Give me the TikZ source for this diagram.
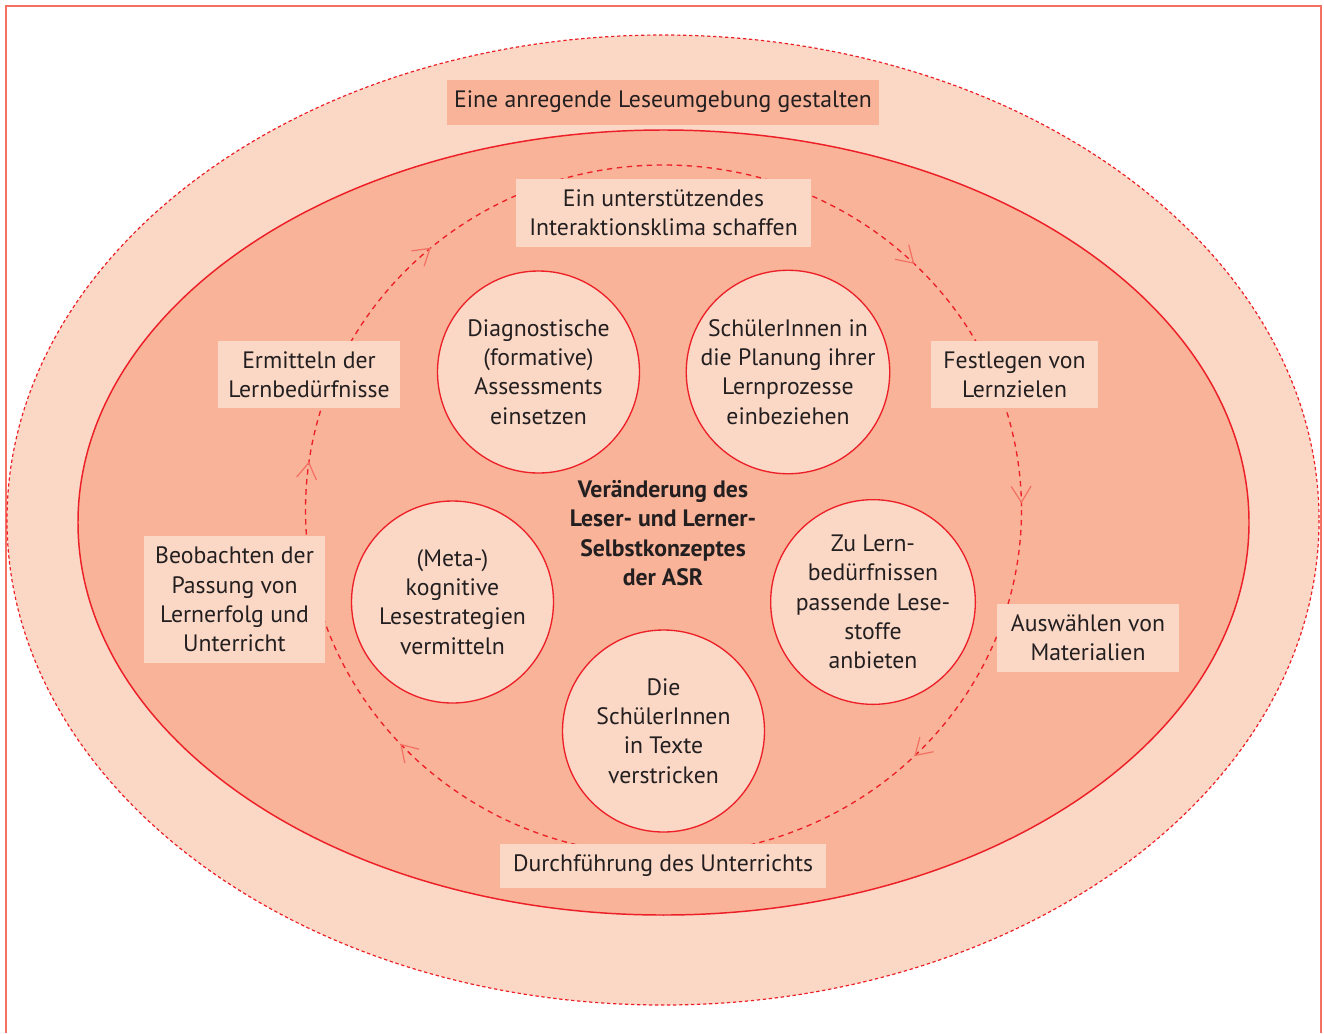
\documentclass[tikz,border=0pt]{standalone}
\usepackage{fontspec}
\setmainfont{PT Sans}
\usetikzlibrary{arrows.meta,decorations.markings}

\definecolor{asrred}{RGB}{237,32,40}
\definecolor{asrframe}{RGB}{243,112,98}
\definecolor{asrlight}{RGB}{251,216,198}
\definecolor{asrmid}{RGB}{248,179,152}
\definecolor{asrtext}{RGB}{35,31,32}

\tikzset{every picture/.style={line width=0.75pt}}
\tikzset{
  asrfont/.style={font=\fontsize{17.8}{22}\selectfont},
  labelbox/.style={asrfont, fill=asrlight, text=asrtext, align=center, inner sep=2pt},
  topicball/.style={asrfont, circle, draw=asrred, line width=1pt, fill=asrlight, text=asrtext, align=center, minimum size=151.5pt, inner sep=0pt},
  cycletip/.style={asrframe, solid, line width=0.9pt},
  cycleline/.style={draw=asrred, line width=1pt, dash pattern=on 4pt off 3.5pt, postaction={decorate},
    decoration={markings,
      mark=at position 0.125 with {\arrow[cycletip]{Straight Barb[length=12pt,width=15pt]}},
      mark=at position 0.383 with {\arrow[cycletip]{Straight Barb[length=12pt,width=15pt]}},
      mark=at position 0.522 with {\arrow[cycletip]{Straight Barb[length=12pt,width=15pt]}},
      mark=at position 0.636 with {\arrow[cycletip]{Straight Barb[length=12pt,width=15pt]}},
      mark=at position 0.875 with {\arrow[cycletip]{Straight Barb[length=12pt,width=15pt]}},
      mark=at position 0.997 with {\arrow[cycletip]{Straight Barb[length=12pt,width=15pt]}}}}
}

\begin{document}
\begin{tikzpicture}[x=0.75pt,y=0.75pt,yscale=-1,xscale=1]
\useasboundingbox (0,0) rectangle (1324,1033);

%Shape: Frame
\draw [asrframe, line width=1.2pt] (6,1033) -- (6,6) -- (1321,6) -- (1321,1033);

%Shape: Ellipse [outer]
\draw [asrred, line width=0.9pt, dash pattern=on 2.5pt off 2pt, fill=asrlight] (663,520) ellipse [x radius=656, y radius=485];
%Shape: Ellipse [inner]
\draw [asrred, line width=1.1pt, fill=asrmid] (663.5,522.5) ellipse [x radius=585.5, y radius=392.5];
%Curve Lines [cycle]
\path [cycleline] (663.5,510) ellipse [x radius=358, y radius=345];

% Text Node
\node [labelbox, fill=asrmid, minimum width=324pt, minimum height=33.75pt] (umgebung) at (663,102) {Eine anregende Leseumgebung gestalten};
% Text Node
\node [labelbox, minimum width=221pt, minimum height=51pt] (klima) at (663.5,213) {Ein unterstützendes\\Interaktionsklima schaffen};
% Text Node
\node [labelbox, minimum width=125pt, minimum height=50pt] (ziele) at (1014.5,374.5) {Festlegen von\\Lernzielen};
% Text Node
\node [labelbox, minimum width=136.5pt, minimum height=51pt] (material) at (1088,638) {Auswählen von\\Materialien};
% Text Node
\node [labelbox, minimum width=244.5pt, minimum height=33pt] (unterricht) at (663,866) {Durchführung des Unterrichts};
% Text Node
\node [labelbox, minimum width=136pt, minimum height=95pt] (beobachten) at (234.5,599.5) {Beobachten der\\Passung von\\Lernerfolg und\\Unterricht};
% Text Node
\node [labelbox, minimum width=136.5pt, minimum height=50pt] (ermitteln) at (309,374.5) {Ermitteln der\\Lernbedürfnisse};

% Circles
\node [topicball] (diagnostik) at (538.5,372) {Diagnostische\\(formative)\\Assessments\\einsetzen};
\node [topicball] (planung) at (788,372) {SchülerInnen in\\die Planung ihrer\\Lernprozesse\\einbeziehen};
\node [topicball] (meta) at (452.5,602) {(Meta-)\\kognitive\\Lesestrategien\\vermitteln};
\node [topicball] (lesestoff) at (873,602) {Zu Lern-\\bedürfnissen\\passende Lese-\\stoffe\\anbieten};
\node [topicball] (verstricken) at (663.5,731) {Die\\SchülerInnen\\in Texte\\verstricken};

% Text Node
\node [text=asrtext, align=center, font=\fontsize{17.8}{22}\selectfont\bfseries] (selbstkonzept) at (663,533) {Veränderung des\\Leser- und Lerner-\\Selbstkonzeptes\\der ASR};

\end{tikzpicture}
\end{document}
